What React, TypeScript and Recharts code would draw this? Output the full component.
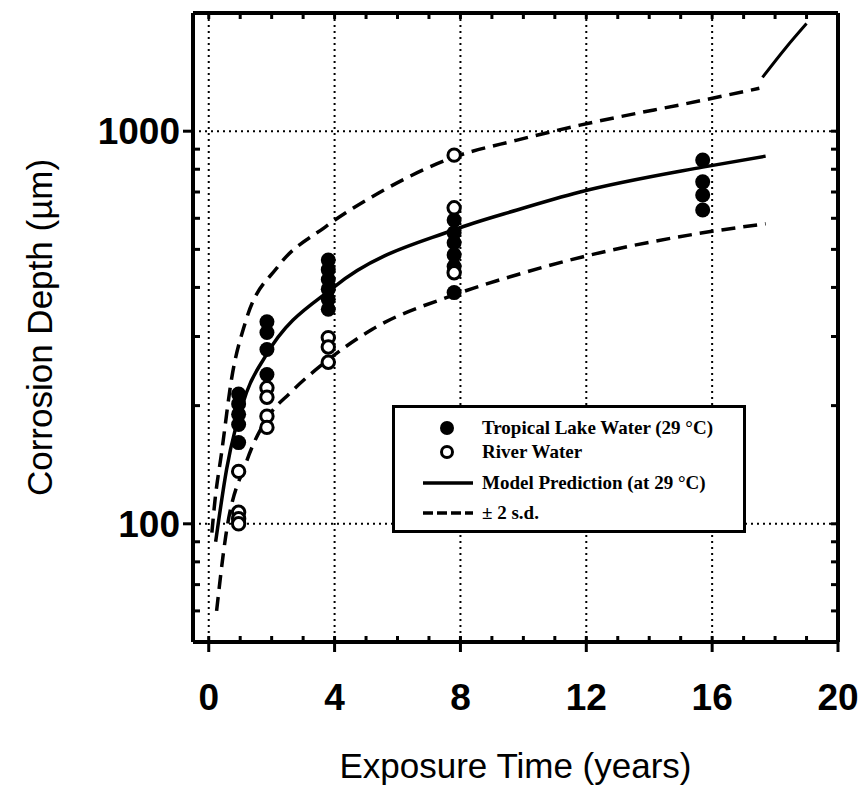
import {
  CartesianGrid,
  ComposedChart,
  Legend,
  Line,
  Scatter,
  XAxis,
  YAxis,
} from "recharts";

// tick positions
const xTicks = [0, 4, 8, 12, 16, 20];
const xMinorTicks = [0, 1, 2, 3, 4, 5, 6, 7, 8, 9, 10, 11, 12, 13, 14, 15, 16, 17, 18, 19];
const yTicks = [100, 1000];
const yMinorTicks = [60, 70, 80, 90, 200, 300, 400, 500, 600, 700, 800, 900];
const yRightTicks = [60, 70, 80, 90, 100, 200, 300, 400, 500, 600, 700, 800, 900, 1000];

// measured points, tropical lake water (filled)
const lakeTimes = [
  0.95, 0.95, 0.95, 0.95, 0.95,
  1.85, 1.85, 1.85, 1.85,
  3.8, 3.8, 3.8, 3.8, 3.8, 3.8,
  7.8, 7.8, 7.8, 7.8, 7.8, 7.8,
  15.7, 15.7, 15.7, 15.7,
];
const lakeDepths = [
  214, 202, 190, 179, 161,
  327, 307, 278, 240,
  470, 444, 419, 396, 373, 352,
  594, 551, 520, 484, 452, 388,
  844, 743, 688, 630,
];

// measured points, river water (open)
const riverTimes = [0.95, 0.95, 0.95, 0.95, 1.85, 1.85, 1.85, 1.85, 3.8, 3.8, 3.8, 7.8, 7.8, 7.8];
const riverDepths = [136, 107, 103, 100, 222, 210, 188, 176, 298, 282, 258, 869, 638, 436];

// model curve and +/- 2 s.d. band
const modelTimes = [0.22, 0.57, 1.2, 1.8, 4.0, 7.8, 9.8, 11.8, 15.7, 17.7];
const modelDepths = [90, 138, 216, 267, 402, 561, 630, 700, 810, 864];
const upperTimes = [0.1, 0.2, 0.41, 0.73, 1.17, 2.2, 3.7, 5.4, 7.8, 9.8, 11.8, 15.7, 17.5];
const upperDepths = [95, 115, 152, 235, 327, 452, 570, 696, 859, 949, 1036, 1199, 1286];
const lowerTimes = [0.25, 0.54, 1.2, 1.84, 2.6, 3.7, 5.2, 7.8, 9.8, 11.9, 15.7, 17.7];
const lowerDepths = [60, 93, 144, 185, 216, 258, 313, 383, 431, 479, 551, 581];

// pen stroke in the top right corner of the scan
const scribbleTimes = [17.6, 18.35, 19.0];
const scribbleDepths = [1371, 1634, 1880];

const legendLabels = [
  "Tropical Lake Water (29 °C)",
  "River Water",
  "Model Prediction (at 29 °C)",
  "± 2 s.d.",
];

const pair = (xs: number[], ys: number[]) => xs.map((x, i) => ({ x, y: ys[i] }));

const lakeData = pair(lakeTimes, lakeDepths);
const riverData = pair(riverTimes, riverDepths);
const modelData = pair(modelTimes, modelDepths);
const upperData = pair(upperTimes, upperDepths);
const lowerData = pair(lowerTimes, lowerDepths);
const scribbleData = pair(scribbleTimes, scribbleDepths);

const FilledDot = (props: any) => <circle cx={props.cx} cy={props.cy} r={7.5} fill="#000" />;
const OpenDot = (props: any) => (
  <circle cx={props.cx} cy={props.cy} r={6.2} fill="#fff" stroke="#000" strokeWidth={3} />
);

const sans = '"Liberation Sans", Arial, Helvetica, sans-serif';
const tickFont = { fontSize: 37, fontWeight: "bold", fill: "#000", fontFamily: sans };
const axisLine = { stroke: "#000", strokeWidth: 4 };
const tickLine = { stroke: "#000", strokeWidth: 3 };
const blank = () => "";

const rowTops = [8, 32, 63, 93];

const LegendBox = () => (
  <div
    style={{
      position: "relative",
      width: 354,
      height: 128,
      boxSizing: "border-box",
      border: "3px solid #000",
      background: "#fff",
      fontFamily: '"Liberation Serif", "Times New Roman", serif',
      fontWeight: "bold",
      fontSize: 19,
      color: "#000",
    }}
  >
    {legendLabels.map((label, i) => (
      <div
        key={label}
        style={{ position: "absolute", left: 0, top: rowTops[i], height: 24, width: 348 }}
      >
        <svg width={86} height={24} style={{ position: "absolute", left: 0, top: 0 }}>
          {i === 0 && <circle cx={52} cy={12} r={7} fill="#000" />}
          {i === 1 && <circle cx={52} cy={12} r={5.5} fill="#fff" stroke="#000" strokeWidth={3} />}
          {i === 2 && <line x1={28} y1={12} x2={78} y2={12} stroke="#000" strokeWidth={3.5} />}
          {i === 3 && (
            <line x1={28} y1={12} x2={78} y2={12} stroke="#000" strokeWidth={3.5} strokeDasharray="10 4" />
          )}
        </svg>
        <span style={{ position: "absolute", left: 87, top: 0, lineHeight: "24px", whiteSpace: "nowrap" }}>
          {label}
        </span>
      </div>
    ))}
  </div>
);

export default function App() {
  return (
    <div style={{ fontFamily: sans }}>
      <ComposedChart width={859} height={782} margin={{ top: 5, right: 29, bottom: 0, left: 0 }}>
        <CartesianGrid
          xAxisId="x"
          yAxisId="y"
          stroke="#000"
          strokeWidth={2}
          strokeDasharray="2 4"
        />
        <XAxis
          xAxisId="x"
          dataKey="x"
          type="number"
          domain={[-0.5, 20]}
          allowDataOverflow
          ticks={xTicks}
          height={148}
          tickSize={10}
          tickMargin={32}
          axisLine={axisLine}
          tickLine={tickLine}
          tick={tickFont}
          label={{
            value: "Exposure Time (years)",
            position: "insideBottom",
            offset: 12,
            fontSize: 35,
            fill: "#000",
          }}
        />
        <XAxis
          xAxisId="xInner"
          dataKey="x"
          type="number"
          orientation="bottom"
          mirror
          domain={[-0.5, 20]}
          allowDataOverflow
          ticks={xMinorTicks}
          tickSize={6}
          axisLine={false}
          tickLine={tickLine}
          tickFormatter={blank}
        />
        <XAxis
          xAxisId="xTop"
          dataKey="x"
          type="number"
          orientation="top"
          mirror
          domain={[-0.5, 20]}
          allowDataOverflow
          ticks={xMinorTicks}
          tickSize={6}
          axisLine={axisLine}
          tickLine={tickLine}
          tickFormatter={blank}
        />
        <YAxis
          yAxisId="y"
          dataKey="y"
          scale="log"
          type="number"
          domain={[50, 2000]}
          allowDataOverflow
          ticks={yTicks}
          width={185}
          tickSize={10}
          tickMargin={3}
          axisLine={axisLine}
          tickLine={tickLine}
          tick={tickFont}
          label={{
            value: "Corrosion Depth (µm)",
            angle: -90,
            position: "insideLeft",
            offset: 32,
            fontSize: 35,
            fill: "#000",
            style: { textAnchor: "middle" },
          }}
        />
        <YAxis
          yAxisId="yInner"
          dataKey="y"
          scale="log"
          type="number"
          orientation="left"
          mirror
          domain={[50, 2000]}
          allowDataOverflow
          ticks={yMinorTicks}
          tickSize={7}
          axisLine={false}
          tickLine={tickLine}
          tickFormatter={blank}
        />
        <YAxis
          yAxisId="yRight"
          dataKey="y"
          scale="log"
          type="number"
          orientation="right"
          mirror
          domain={[50, 2000]}
          allowDataOverflow
          ticks={yRightTicks}
          tickSize={7}
          axisLine={axisLine}
          tickLine={tickLine}
          tickFormatter={blank}
        />
        <Legend
          layout="vertical"
          align="center"
          verticalAlign="middle"
          content={() => <LegendBox />}
          wrapperStyle={{ left: 384, top: 397, width: 354, height: 128 }}
        />
        <Line
          xAxisId="x"
          yAxisId="y"
          data={upperData}
          dataKey="y"
          type="monotone"
          stroke="#000"
          strokeWidth={3.5}
          strokeDasharray="14 8"
          dot={false}
          legendType="none"
          isAnimationActive={false}
        />
        <Line
          xAxisId="x"
          yAxisId="y"
          data={lowerData}
          dataKey="y"
          type="monotone"
          stroke="#000"
          strokeWidth={3.5}
          strokeDasharray="14 8"
          dot={false}
          legendType="none"
          isAnimationActive={false}
        />
        <Line
          xAxisId="x"
          yAxisId="y"
          data={modelData}
          dataKey="y"
          type="monotone"
          stroke="#000"
          strokeWidth={3.5}
          dot={false}
          legendType="none"
          isAnimationActive={false}
        />
        <Line
          xAxisId="x"
          yAxisId="y"
          data={scribbleData}
          dataKey="y"
          type="monotone"
          stroke="#000"
          strokeWidth={3}
          dot={false}
          legendType="none"
          isAnimationActive={false}
        />
        <Scatter
          xAxisId="x"
          yAxisId="y"
          data={lakeData}
          dataKey="y"
          shape={FilledDot}
          legendType="none"
          isAnimationActive={false}
        />
        <Scatter
          xAxisId="x"
          yAxisId="y"
          data={riverData}
          dataKey="y"
          shape={OpenDot}
          legendType="none"
          isAnimationActive={false}
        />
      </ComposedChart>
    </div>
  );
}
